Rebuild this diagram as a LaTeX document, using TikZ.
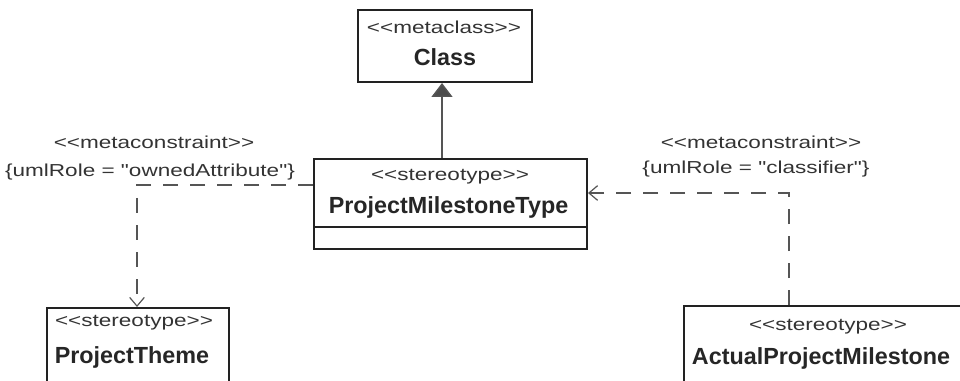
\documentclass[tikz,border=0pt]{standalone}
\usepackage{fontspec}
\setmainfont{Liberation Sans}
\newfontfamily\stereofont[FakeStretch=1.3]{Liberation Sans}
\usetikzlibrary{arrows.meta}
\definecolor{boxline}{HTML}{222222}
\definecolor{dashline}{HTML}{555555}
\begin{document}
\begin{tikzpicture}[x=0.75pt,y=-0.75pt,
  umlbox/.style={draw=boxline,line width=1.5pt,fill=white,inner sep=0pt},
  stereo/.style={font=\stereofont\fontsize{13}{15}\selectfont,text=black!80,inner sep=0pt,anchor=center},
  title/.style={font=\bfseries\fontsize{17.5}{20}\selectfont,text=black!85,inner sep=0pt,anchor=center},
  dep/.style={draw=dashline,line width=1.1pt,dash pattern=on 11.25pt off 9pt,
    -{Straight Barb[length=6.5pt,width=11pt,line width=0.9pt]}},
  gen/.style={draw=dashline,line width=1.1pt,
    -{Triangle[length=10.5pt,width=15.75pt,fill=black!70]}}]
\useasboundingbox (0,0) rectangle (960,381);
\clip (0,0) rectangle (960,381);
% Class
\node[umlbox,minimum width=130.5pt,minimum height=54pt] (cls) at (445,46) {};
\node[stereo] (clsst) at (444,27) {<<metaclass>>};
\node[title] (clsnm) at (445,57) {Class};
% ProjectMilestoneType
\node[umlbox,minimum width=204.75pt,minimum height=67.5pt] (pmt) at (450.5,204) {};
\draw[boxline,line width=1.5pt] (pmt.west |- 0,227) -- (pmt.east |- 0,227);
\node[stereo] (pmtst) at (450,177) {<<stereotype>>};
\node[title] (pmtnm) at (448.5,207) {ProjectMilestoneType};
% ProjectTheme
\node[umlbox,minimum width=136.5pt,minimum height=69pt] (pt) at (138,354) {};
\node[stereo] (ptst) at (134,323) {<<stereotype>>};
\node[title] (ptnm) at (132,357) {ProjectTheme};
% ActualProjectMilestone
\node[umlbox,minimum width=237pt,minimum height=70.5pt] (apm) at (842,353) {};
\node[stereo] (apmst) at (828,327) {<<stereotype>>};
\node[title] (apmnm) at (821,358) {ActualProjectMilestone};
% constraint labels
\node[stereo] (lc1) at (154,142) {<<metaconstraint>>};
\node[stereo] (lc2) at (150,172) {\{umlRole = "ownedAttribute"\}};
\node[stereo] (rc1) at (761,142) {<<metaconstraint>>};
\node[stereo] (rc2) at (756,169) {\{umlRole = "classifier"\}};
% connectors
\draw[gen] (pmt.north -| 442,0) -- (cls.south -| 442,0);
\coordinate (lcorner) at (137,185);
\draw[dep] (pmt.west |- lcorner) -- (lcorner) -- (pt.north -| lcorner);
\coordinate (rcorner) at (789,193);
\draw[dep] (apm.north -| rcorner) -- (rcorner) -- (pmt.east |- rcorner);
\end{tikzpicture}
\end{document}
